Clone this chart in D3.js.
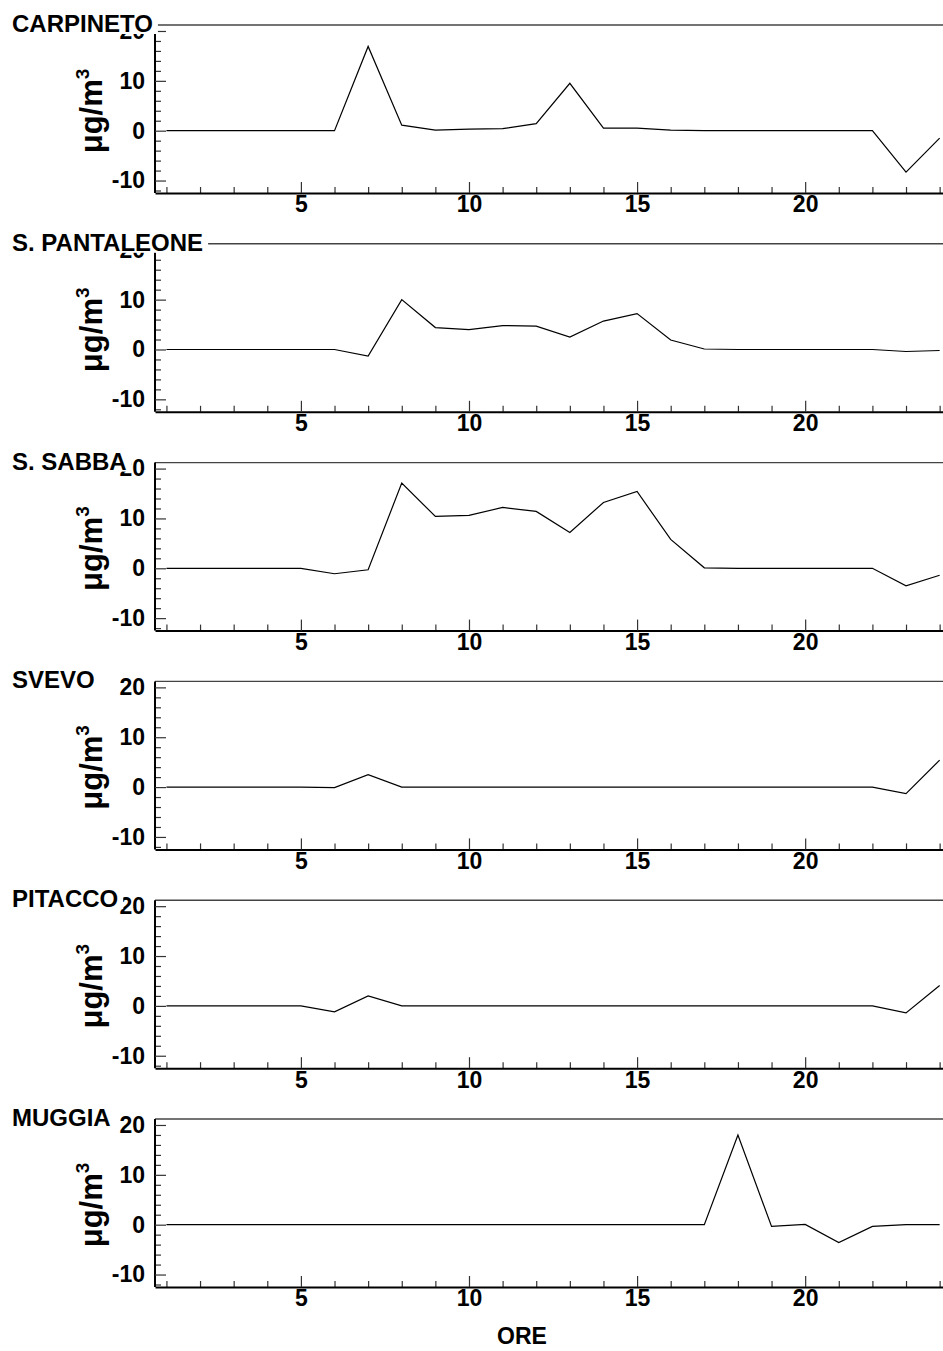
<!DOCTYPE html>
<html>
<head>
<meta charset="utf-8">
<script src="https://cdn.jsdelivr.net/npm/d3@7"></script>
<style>
  body { margin: 0; background: #fff; }
  text { font-family: "Liberation Sans", Arial, sans-serif; font-weight: bold; }
</style>
</head>
<body>
<div class="chart"></div>
<script>
// hours of the day
var hours = d3.range(1, 25);

var stations = ["CARPINETO", "S. PANTALEONE", "S. SABBA", "SVEVO", "PITACCO", "MUGGIA"];

var carpineto   = [0, 0, 0, 0, 0, 0, 16.9, 1.1, 0.1, 0.3, 0.4, 1.4, 9.5, 0.5, 0.5, 0.1, 0, 0, 0, 0, 0, 0, -8.3, -1.5];
var pantaleone  = [0, 0, 0, 0, 0, 0, -1.3, 10.0, 4.4, 4.0, 4.8, 4.7, 2.5, 5.7, 7.2, 1.9, 0.1, 0, 0, 0, 0, 0, -0.4, -0.2];
var sabba       = [0, 0, 0, 0, 0, -1.1, -0.3, 17.1, 10.4, 10.6, 12.2, 11.4, 7.2, 13.2, 15.4, 5.8, 0.1, 0, 0, 0, 0, 0, -3.5, -1.4];
var svevo       = [0, 0, 0, 0, 0, -0.1, 2.5, 0, 0, 0, 0, 0, 0, 0, 0, 0, 0, 0, 0, 0, 0, 0, -1.3, 5.4];
var pitacco     = [0, 0, 0, 0, 0, -1.2, 2.0, 0, 0, 0, 0, 0, 0, 0, 0, 0, 0, 0, 0, 0, 0, 0, -1.4, 4.1];
var muggia      = [0, 0, 0, 0, 0, 0, 0, 0, 0, 0, 0, 0, 0, 0, 0, 0, 0, 18.0, -0.35, 0.05, -3.6, -0.35, 0, 0];

var series = [carpineto, pantaleone, sabba, svevo, pitacco, muggia];

var yTicks = [-10, 0, 10, 20];
var yMinor = [-12, -8, -6, -4, -2, 2, 4, 6, 8, 12, 14, 16, 18];
var xTicks = [5, 10, 15, 20];

var w = 943;
var h = 1351;
var left = 155;
var panelH = 168;
var step = 218.8;
var top0 = 25;

var svg = d3.select(".chart")
            .append("svg")
            .attr("width", w)
            .attr("height", h);

var x = d3.scaleLinear()
          .domain([0.66, 24.1])
          .range([left, w]);

var fmt = function(d){ return String(d); };

var xAxis = d3.axisBottom(x)
              .tickValues(xTicks)
              .tickSizeInner(-11)
              .tickSizeOuter(0)
              .tickPadding(3)
              .tickFormat(fmt);

var xMinorAxis = d3.axisBottom(x)
              .tickValues(hours.filter(function(d){ return xTicks.indexOf(d) < 0; }))
              .tickSizeInner(-6)
              .tickSizeOuter(0)
              .tickFormat("");

stations.forEach(function(name, i){
  var top = top0 + i * step;
  var bottom = top + panelH;

  var y = d3.scaleLinear()
            .domain([-12.5, 21.2])
            .range([bottom, top]);

  var g = svg.append("g");

  // top frame line
  g.append("line")
    .attr("x1", left).attr("x2", w)
    .attr("y1", top).attr("y2", top)
    .attr("stroke", "#444")
    .attr("stroke-width", 1.4);

  // minor y ticks
  var yMinorAxis = d3.axisLeft(y)
                     .tickValues(yMinor)
                     .tickSizeInner(-6)
                     .tickSizeOuter(0)
                     .tickFormat("");
  var ym = g.append("g")
    .attr("transform", "translate(" + left + ",0)")
    .call(yMinorAxis);
  ym.select(".domain").remove();

  var yAxis = d3.axisLeft(y)
                .tickValues(yTicks)
                .tickSizeInner(-11)
                .tickSizeOuter(0)
                .tickPadding(10)
                .tickFormat(fmt);

  var ya = g.append("g")
    .attr("transform", "translate(" + left + ",0)")
    .call(yAxis);
  ya.select(".domain").attr("stroke-width", 2).attr("d", "M0," + top + "V" + bottom);
  ya.selectAll(".tick line").attr("stroke", "#333").attr("stroke-width", 1.2);
  ym.selectAll(".tick line").attr("stroke", "#333").attr("stroke-width", 1.2);
  ya.selectAll("text")
    .style("font-size", "23px")
    .style("font-family", "Liberation Sans, Arial")
    .style("font-weight", "bold")
    .attr("fill", "#000");

  // x axis
  var xm = g.append("g")
    .attr("transform", "translate(0," + bottom + ")")
    .call(xMinorAxis);
  xm.select(".domain").remove();
  xm.selectAll(".tick line").attr("stroke", "#333").attr("stroke-width", 1.2);

  var xa = g.append("g")
    .attr("transform", "translate(0," + bottom + ")")
    .call(xAxis);
  xa.select(".domain").attr("stroke-width", 2);
  xa.selectAll(".tick line").attr("stroke", "#333").attr("stroke-width", 1.2);
  xa.selectAll("text")
    .style("font-size", "23px")
    .style("font-family", "Liberation Sans, Arial")
    .style("font-weight", "bold")
    .attr("fill", "#000");

  // data line
  var line = d3.line()
               .x(function(d, j){ return x(hours[j]); })
               .y(function(d){ return y(d); });

  g.append("path")
    .datum(series[i])
    .attr("fill", "none")
    .attr("stroke", "#000")
    .attr("stroke-width", 1.2)
    .attr("d", line);

  // unit label
  var ul = g.append("text")
    .attr("transform", "translate(102," + (top + panelH / 2 + 2) + ") rotate(-90)")
    .attr("text-anchor", "middle")
    .style("font-size", "31px");
  ul.append("tspan").text("\u03bcg/m");
  ul.append("tspan").attr("dy", -13).style("font-size", "19px").text("3");

  // station title with white backing
  var tg = g.append("g");
  var t = tg.append("text")
    .attr("x", 12)
    .attr("y", top + 7)
    .style("font-size", "24px")
    .text(name);
  var bb = t.node().getBBox();
  tg.insert("rect", "text")
    .attr("x", bb.x - 2)
    .attr("y", bb.y)
    .attr("width", bb.width + 7)
    .attr("height", bb.height - 3)
    .attr("fill", "#fff");
});

svg.append("text")
   .attr("x", 522)
   .attr("y", 1344)
   .attr("text-anchor", "middle")
   .style("font-size", "23px")
   .text("ORE");
</script>
</body>
</html>
